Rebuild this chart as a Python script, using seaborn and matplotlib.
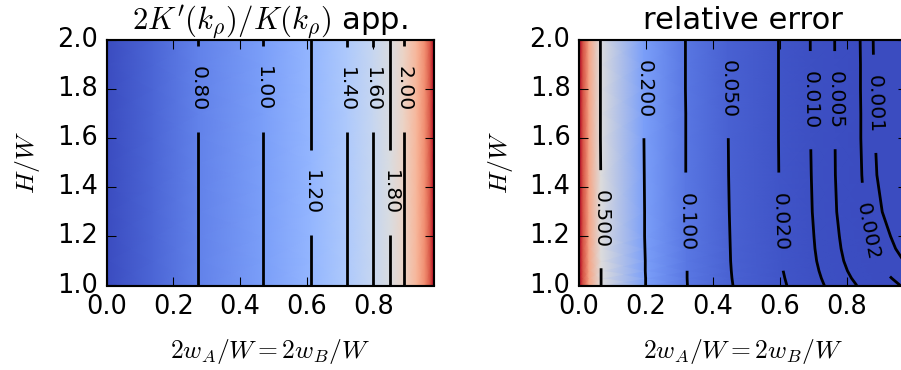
import numpy as np
import matplotlib

matplotlib.use("Agg")
import matplotlib.pyplot as plt
import seaborn as sns

# ===== DATA =====
# Left panel: 2K'(k_rho)/K(k_rho) approximation, does not change with H/W
app_x = [0.0, 0.14, 0.275, 0.470, 0.613, 0.720, 0.798, 0.851, 0.891, 0.930, 0.955, 0.972, 0.980]
app_value = [0.45, 0.62, 0.80, 1.00, 1.20, 1.40, 1.60, 1.80, 2.00, 2.30, 2.60, 2.95, 3.20]
app_hw = [1.0, 1.1, 1.2, 1.3, 1.4, 1.5, 1.6, 1.7, 1.8, 1.9, 2.0]
app_levels = [0.80, 1.00, 1.20, 1.40, 1.60, 1.80, 2.00]
app_label_pos = [(0.275, 1.80), (0.470, 1.80), (0.613, 1.38), (0.720, 1.80),
                 (0.798, 1.80), (0.851, 1.38), (0.891, 1.80)]

# Right panel: relative error, x where each level line sits at the rows of err_hw
err_hw = [1.0, 1.03, 1.06, 1.1, 1.15, 1.2, 1.3, 1.45, 1.6, 1.7, 1.8, 1.9, 2.0]
err_levels = [0.500, 0.200, 0.100, 0.050, 0.020, 0.010, 0.005, 0.002, 0.001]
x_err_0500 = [0.066, 0.066, 0.066, 0.066, 0.065, 0.065, 0.065, 0.065, 0.064, 0.064, 0.064, 0.064, 0.064]
x_err_0200 = [0.199, 0.199, 0.198, 0.198, 0.197, 0.196, 0.196, 0.195, 0.194, 0.194, 0.194, 0.193, 0.193]
x_err_0100 = [0.324, 0.323, 0.323, 0.322, 0.322, 0.321, 0.320, 0.319, 0.319, 0.319, 0.318, 0.318, 0.318]
x_err_0050 = [0.460, 0.457, 0.455, 0.453, 0.452, 0.451, 0.449, 0.447, 0.446, 0.446, 0.446, 0.445, 0.445]
x_err_0020 = [0.621, 0.615, 0.610, 0.606, 0.603, 0.601, 0.599, 0.597, 0.596, 0.596, 0.596, 0.596, 0.596]
x_err_0010 = [0.733, 0.724, 0.717, 0.710, 0.705, 0.702, 0.697, 0.694, 0.692, 0.692, 0.692, 0.691, 0.691]
x_err_0005 = [0.830, 0.814, 0.802, 0.791, 0.783, 0.778, 0.770, 0.766, 0.765, 0.765, 0.765, 0.764, 0.764]
x_err_0002 = [0.960, 0.934, 0.912, 0.892, 0.876, 0.866, 0.852, 0.845, 0.842, 0.842, 0.841, 0.841, 0.840]
x_err_0001 = [1.100, 1.050, 1.000, 0.970, 0.946, 0.931, 0.906, 0.890, 0.885, 0.883, 0.881, 0.880, 0.879]
# error near the left edge and beyond the last line
err_left_x = [0.0, 0.012, 0.030]
err_left_value = [1.0, 0.90, 0.72]
err_right_x = 1.2
err_right_value = 0.0004
err_label_pos = [(0.066, 1.27), (0.195, 1.80), (0.321, 1.26), (0.446, 1.80),
                 (0.602, 1.26), (0.692, 1.755), (0.766, 1.755), (0.866, 1.22),
                 (0.881, 1.74)]

# ===== GRIDS =====
app_X, app_Y = np.meshgrid(app_x, app_hw)
app_Z = np.tile(app_value, (len(app_hw), 1))

level_cols = [x_err_0500, x_err_0200, x_err_0100, x_err_0050, x_err_0020,
              x_err_0010, x_err_0005, x_err_0002, x_err_0001]
n_rows = len(err_hw)
err_X = np.column_stack(
    [np.full(n_rows, x) for x in err_left_x]
    + [np.array(c) for c in level_cols]
    + [np.full(n_rows, err_right_x)]
)
err_Y = np.tile(np.array(err_hw)[:, None], (1, err_X.shape[1]))
err_Z = np.tile(err_left_value + err_levels + [err_right_value], (n_rows, 1))

# ===== PLOT =====
plt.style.use("classic")
cmap = sns.color_palette("coolwarm", as_cmap=True)

DPI = 153.6
fig = plt.figure(figsize=(901 / DPI, 370 / DPI), dpi=DPI, facecolor="white")
bottom, height = 1 - 285.5 / 370, 245.5 / 370
ax1 = fig.add_axes([106.5 / 901, bottom, 327 / 901, height])
ax2 = fig.add_axes([579 / 901, bottom, 328 / 901, height])

ax1.pcolormesh(app_X, app_Y, app_Z, shading="gouraud", cmap=cmap,
               vmin=min(app_value), vmax=max(app_value))
cs1 = ax1.contour(app_X, app_Y, app_Z, levels=app_levels, colors="k", linewidths=1.3)
ax1.clabel(cs1, fmt="%.2f", fontsize=9.5, inline=True, inline_spacing=20,
           manual=app_label_pos)
ax1.set_title(r"$2K'(k_\rho)/K(k_\rho)$ app.")

ax2.pcolormesh(err_X, err_Y, err_Z, shading="gouraud", cmap=cmap, vmin=0, vmax=1)
cs2 = ax2.contour(err_X, err_Y, err_Z, levels=sorted(err_levels), colors="k",
                  linewidths=1.3)
ax2.clabel(cs2, fmt="%.3f", fontsize=9.5, inline=True, inline_spacing=20,
           manual=err_label_pos)
ax2.set_title("relative error")

for ax in (ax1, ax2):
    ax.set_xlim(0, 0.98)
    ax.set_ylim(1, 2)
    ax.set_xlabel(r"$2w_A/W = 2w_B/W$", labelpad=8)
    ax.set_ylabel(r"$H/W$", labelpad=7)

fig.savefig("out.png", dpi=DPI, facecolor="white")
